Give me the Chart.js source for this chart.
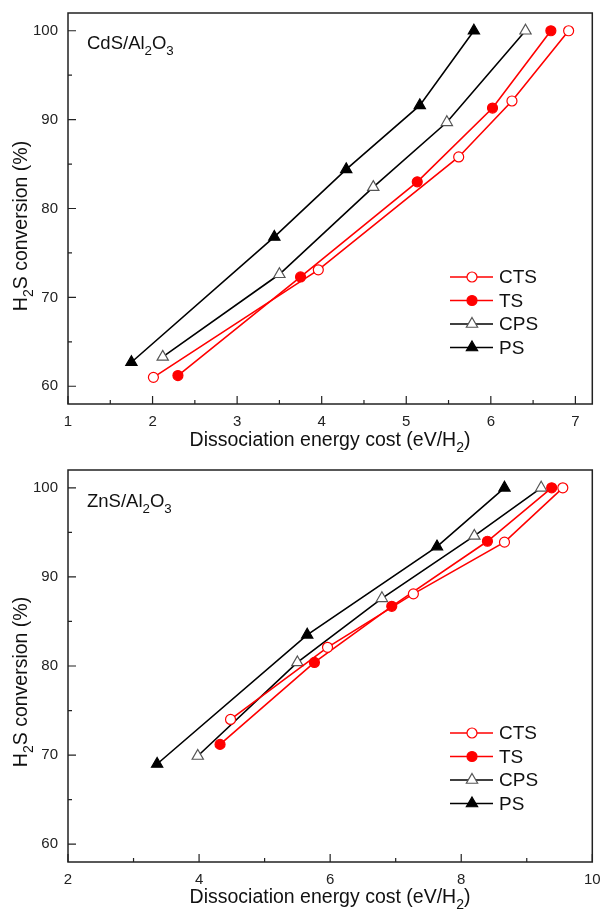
<!DOCTYPE html>
<html>
<head>
<meta charset="utf-8">
<script src="https://cdn.jsdelivr.net/npm/chart.js@4.4.1/dist/chart.umd.min.js"></script>
<style>
  html, body { margin: 0; padding: 0; background: #fff; }
  .box { position: absolute; left: 0; width: 600px; }
</style>
</head>
<body>
<div class="box" style="top:0;height:455px"><canvas id="cds" width="600" height="455"></canvas></div>
<div class="box" style="top:455px;height:454px"><canvas id="zns" width="600" height="454"></canvas></div>
<script>
// ---- data: CdS/Al2O3 ----
const cdsCTS = [[2.01, 61.0], [3.96, 73.1], [5.62, 85.8], [6.25, 92.1], [6.92, 100]];
const cdsTS  = [[2.30, 61.2], [3.75, 72.3], [5.13, 83.0], [6.02, 91.3], [6.71, 100]];
const cdsCPS = [[2.12, 63.3], [3.50, 72.6], [4.61, 82.4], [5.48, 89.7], [6.41, 100]];
const cdsPS  = [[1.75, 62.7], [3.44, 76.8], [4.29, 84.4], [5.16, 91.6], [5.80, 100]];
// ---- data: ZnS/Al2O3 ----
const znsCTS = [[4.48, 74.0], [5.96, 82.1], [7.27, 88.1], [8.66, 93.9], [9.55, 100]];
const znsTS  = [[4.32, 71.2], [5.76, 80.4], [6.94, 86.7], [8.40, 94.0], [9.38, 100]];
const znsCPS = [[3.98, 69.9], [5.50, 80.4], [6.79, 87.6], [8.20, 94.6], [9.22, 100]];
const znsPS  = [[3.36, 69.0], [5.65, 83.5], [7.63, 93.4], [8.66, 100]];
// ---- ticks ----
const cdsXTicks = [1, 2, 3, 4, 5, 6, 7];
const znsXTicks = [2, 4, 6, 8, 10];
const yTicks = [60, 70, 80, 90, 100];
const seriesNames = ['CTS', 'TS', 'CPS', 'PS'];

const RED = '#ff0000';
const FONT = '"Liberation Sans", Arial, sans-serif';

const styles = {
  CTS: { line: RED, fill: '#ffffff', border: RED, shape: 'circle', r: 5 },
  TS:  { line: RED, fill: RED, border: RED, shape: 'circle', r: 5 },
  CPS: { line: '#000', fill: '#ffffff', border: '#555', shape: 'triangle', r: 6.5 },
  PS:  { line: '#000', fill: '#000', border: '#000', shape: 'triangle', r: 6.5 }
};

function toXY(arr) { return arr.map(p => ({ x: p[0], y: p[1] })); }

function makeSet(name, pts) {
  const s = styles[name];
  return {
    label: name,
    data: toXY(pts),
    showLine: true,
    borderColor: s.line,
    borderWidth: 1.6,
    pointStyle: s.shape,
    pointRadius: s.r,
    pointHoverRadius: s.r,
    pointBackgroundColor: s.fill,
    pointBorderColor: s.border,
    pointBorderWidth: 1.2
  };
}

// text with subscripts: parts = [[text, isSub], ...]
function richWidth(ctx, parts, size) {
  let w = 0;
  parts.forEach(p => {
    ctx.font = (p[1] ? size * 0.72 : size) + 'px ' + FONT;
    w += ctx.measureText(p[0]).width;
  });
  return w;
}
function drawRich(ctx, parts, x, y, size) {
  let cx = x;
  ctx.textAlign = 'left';
  ctx.textBaseline = 'alphabetic';
  parts.forEach(p => {
    ctx.font = (p[1] ? size * 0.72 : size) + 'px ' + FONT;
    ctx.fillText(p[0], cx, p[1] ? y + size * 0.3 : y);
    cx += ctx.measureText(p[0]).width;
  });
}

function marker(ctx, shape, x, y, r, fill, border) {
  ctx.beginPath();
  if (shape === 'circle') {
    ctx.arc(x, y, r, 0, Math.PI * 2);
  } else {
    ctx.moveTo(x, y - r);
    ctx.lineTo(x + r * 0.87, y + r * 0.5);
    ctx.lineTo(x - r * 0.87, y + r * 0.5);
    ctx.closePath();
  }
  ctx.fillStyle = fill;
  ctx.fill();
  ctx.lineWidth = 1.2;
  ctx.strokeStyle = border;
  ctx.stroke();
}

const decor = {
  id: 'decor',
  afterDraw(chart, args, o) {
    const ctx = chart.ctx;
    const a = chart.chartArea;
    const xs = chart.scales.x, ys = chart.scales.y;
    ctx.save();
    // frame
    ctx.strokeStyle = '#222';
    ctx.lineWidth = 1.5;
    ctx.strokeRect(a.left, a.top, a.right - a.left, a.bottom - a.top);
    // inward ticks
    ctx.lineWidth = 1.2;
    ctx.beginPath();
    o.xTicks.forEach((v, i) => {
      const px = xs.getPixelForValue(v);
      ctx.moveTo(px, a.bottom); ctx.lineTo(px, a.bottom - 8);
      if (i < o.xTicks.length - 1) {
        const mx = xs.getPixelForValue((v + o.xTicks[i + 1]) / 2);
        ctx.moveTo(mx, a.bottom); ctx.lineTo(mx, a.bottom - 4);
      }
    });
    yTicks.forEach((v, i) => {
      const py = ys.getPixelForValue(v);
      ctx.moveTo(a.left, py); ctx.lineTo(a.left + 8, py);
      if (i < yTicks.length - 1) {
        const my = ys.getPixelForValue(v + 5);
        ctx.moveTo(a.left, my); ctx.lineTo(a.left + 4, my);
      }
    });
    ctx.stroke();

    ctx.fillStyle = '#111';
    // sample label
    drawRich(ctx, o.label, 87, o.labelY, 18.5);
    // x title
    const xt = [['Dissociation energy cost (eV/H', false], ['2', true], [')', false]];
    const w = richWidth(ctx, xt, 19.5);
    drawRich(ctx, xt, 330 - w / 2, o.xTitleY, 19.5);
    // y title
    const yt = [['H', false], ['2', true], ['S conversion (%)', false]];
    const wy = richWidth(ctx, yt, 19.5);
    ctx.translate(27, o.yTitleC);
    ctx.rotate(-Math.PI / 2);
    drawRich(ctx, yt, -wy / 2, 0, 19.5);
    ctx.setTransform(1, 0, 0, 1, 0, 0);

    // legend
    seriesNames.forEach((n, i) => {
      const s = styles[n];
      const y = o.legendY + i * 23.5;
      ctx.beginPath();
      ctx.strokeStyle = s.line;
      ctx.lineWidth = 1.6;
      ctx.moveTo(450, y); ctx.lineTo(493, y);
      ctx.stroke();
      marker(ctx, s.shape, 472, y, s.r, s.fill, s.border);
      ctx.fillStyle = '#111';
      ctx.font = '19px ' + FONT;
      ctx.textAlign = 'left';
      ctx.textBaseline = 'middle';
      ctx.fillText(n, 499, y + 1);
    });
    ctx.restore();
  }
};

function build(id, sets, xMin, xMax, xTicks, pad, xH, deco) {
  return new Chart(document.getElementById(id), {
    type: 'scatter',
    data: { datasets: sets },
    options: {
      responsive: false,
      animation: false,
      layout: { padding: pad },
      plugins: { legend: { display: false }, tooltip: { enabled: false }, decor: deco },
      scales: {
        x: {
          type: 'linear', min: xMin, max: xMax,
          afterBuildTicks: s => { s.ticks = xTicks.map(v => ({ value: v })); },
          afterFit: s => { s.height = xH; s.paddingLeft = 0; s.paddingRight = 0; },
          grid: { display: false, drawTicks: false }, border: { display: false },
          ticks: { color: '#222', font: { family: FONT, size: 15 }, padding: 9, maxRotation: 0 }
        },
        y: {
          type: 'linear', min: 58, max: 102,
          afterBuildTicks: s => { s.ticks = yTicks.map(v => ({ value: v })); },
          afterFit: s => { s.width = 68; s.paddingTop = 0; s.paddingBottom = 0; },
          grid: { display: false, drawTicks: false }, border: { display: false },
          ticks: { color: '#222', font: { family: FONT, size: 15 }, padding: 10 }
        }
      }
    },
    plugins: [decor]
  });
}

build('cds',
  [makeSet('CTS', cdsCTS), makeSet('TS', cdsTS), makeSet('CPS', cdsCPS), makeSet('PS', cdsPS)],
  1, 7.2, cdsXTicks, { top: 13, right: 2, left: 0, bottom: 0 }, 51,
  { xTicks: cdsXTicks, label: [['CdS/Al', false], ['2', true], ['O', false], ['3', true]], labelY: 49,
    xTitleY: 446, yTitleC: 226, legendY: 277 });

build('zns',
  [makeSet('CTS', znsCTS), makeSet('TS', znsTS), makeSet('CPS', znsCPS), makeSet('PS', znsPS)],
  2, 10, znsXTicks, { top: 15, right: 3, left: 0, bottom: 0 }, 47,
  { xTicks: znsXTicks, label: [['ZnS/Al', false], ['2', true], ['O', false], ['3', true]], labelY: 52,
    xTitleY: 448, yTitleC: 227, legendY: 278 });
</script>
</body>
</html>
